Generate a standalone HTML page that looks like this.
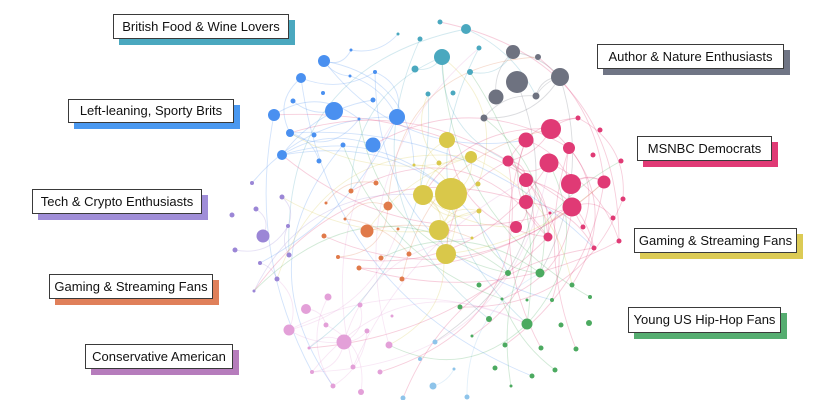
<!DOCTYPE html>
<html><head><meta charset="utf-8">
<style>
html,body{margin:0;padding:0;background:#fff;}
#wrap{position:relative;width:840px;height:400px;overflow:hidden;background:#fff;}
svg{position:absolute;left:0;top:0;}
.lb{position:absolute;height:23px;}
.lb .sh{position:absolute;left:6px;top:6px;right:-6px;bottom:-6px;}
.lb .bx{position:absolute;left:0;top:0;right:0;bottom:0;background:#fff;border:1px solid #3a3a3a;box-sizing:border-box;font:13px "Liberation Sans",sans-serif;color:#111;text-align:center;line-height:22px;white-space:nowrap;}
</style></head><body>
<div id="wrap">
<svg id="s" width="840" height="400" viewBox="0 0 840 400">
<g id="edges" fill="none" stroke-width="0.9"></g>
<g id="nodes"></g>
</svg>

<div class="lb" style="left:113px;top:14px;width:176px;height:25px"><div class="sh" style="background:#4aa8bf"></div><div class="bx" style="line-height:23px">British Food &amp; Wine Lovers</div></div>
<div class="lb" style="left:68px;top:99px;width:166px;height:24px"><div class="sh" style="background:#4a98f0"></div><div class="bx">Left-leaning, Sporty Brits</div></div>
<div class="lb" style="left:32px;top:189px;width:170px;height:25px"><div class="sh" style="background:#a08ed8"></div><div class="bx" style="line-height:23px">Tech &amp; Crypto Enthusiasts</div></div>
<div class="lb" style="left:49px;top:274px;width:164px;height:25px"><div class="sh" style="background:#e0805a"></div><div class="bx" style="line-height:23px">Gaming &amp; Streaming Fans</div></div>
<div class="lb" style="left:85px;top:344px;width:148px;height:25px"><div class="sh" style="background:#b67cbc"></div><div class="bx" style="line-height:23px">Conservative American</div></div>
<div class="lb" style="left:597px;top:44px;width:187px;height:25px"><div class="sh" style="background:#707585"></div><div class="bx" style="line-height:23px">Author &amp; Nature Enthusiasts</div></div>
<div class="lb" style="left:637px;top:136px;width:135px;height:25px"><div class="sh" style="background:#e03a75"></div><div class="bx" style="line-height:23px">MSNBC Democrats</div></div>
<div class="lb" style="left:634px;top:228px;width:163px;height:25px"><div class="sh" style="background:#dccb55"></div><div class="bx" style="line-height:23px">Gaming &amp; Streaming Fans</div></div>
<div class="lb" style="left:628px;top:307px;width:153px;height:26px"><div class="sh" style="background:#55ad70"></div><div class="bx" style="line-height:24px">Young US Hip-Hop Fans</div></div>
</div>
<script>
var C={t:"#4aa8bf",g:"#6e7280",b:"#4a90f0",y:"#d9c84a",p:"#e03a75",o:"#e07a4a",u:"#9b86d6",l:"#e3a0d8",n:"#4caa60",s:"#8ec4ea"};
var N=[
["t",466,29,5],["t",440,22,2.5],["t",442,57,8],["t",420,39,2.5],["t",415,69,3.5],["t",470,72,3],["t",479,48,2.5],["t",428,94,2.5],["t",453,93,2.5],["t",398,34,1.5],
["g",513,52,7],["g",538,57,3],["g",517,82,11],["g",560,77,9],["g",496,97,7.5],["g",536,96,3.5],["g",484,118,3.5],
["b",324,61,6],["b",301,78,5],["b",274,115,6],["b",334,111,9],["b",397,117,8],["b",373,145,7.5],["b",290,133,4],["b",282,155,5],["b",293,101,2.5],["b",323,93,2],["b",350,76,1.5],["b",351,50,1.5],["b",375,72,2],["b",373,100,2.5],["b",314,135,2.5],["b",343,145,2.5],["b",319,161,2.5],["b",359,119,1.5],
["y",447,140,8],["y",471,157,6],["y",451,194,16],["y",423,195,10],["y",439,230,10],["y",446,254,10],["y",439,163,2.5],["y",478,184,2.5],["y",479,211,2.5],["y",414,165,1.5],["y",472,238,1.5],
["p",551,129,10],["p",526,140,7.5],["p",569,148,6],["p",549,163,9.5],["p",508,161,5.5],["p",526,180,7],["p",571,184,10],["p",604,182,6.5],["p",526,202,7],["p",572,207,9.5],["p",516,227,6],["p",548,237,4.5],["p",578,118,2.5],["p",600,130,2.5],["p",593,155,2.5],["p",621,161,2.5],["p",623,199,2.5],["p",613,218,2.5],["p",583,227,2.5],["p",619,241,2.5],["p",594,248,2.5],["p",550,213,1.5],
["o",388,206,4.5],["o",367,231,6.5],["o",376,183,2.5],["o",351,191,2.5],["o",326,203,1.5],["o",345,219,1.5],["o",324,236,2.5],["o",398,229,1.5],["o",338,257,2],["o",381,258,2.5],["o",409,254,2.5],["o",359,268,2.5],["o",402,279,2.5],
["u",263,236,6.5],["u",252,183,2],["u",282,197,2.5],["u",256,209,2.5],["u",288,226,2],["u",289,255,2.5],["u",260,263,2],["u",277,279,2.5],["u",254,291,1.5],["u",232,215,2.5],["u",235,250,2.5],
["l",328,297,3.5],["l",306,309,5],["l",289,330,5.5],["l",344,342,7.5],["l",360,305,2.5],["l",326,325,2.5],["l",367,331,2.5],["l",389,345,3.5],["l",309,348,1.5],["l",353,367,2.5],["l",380,372,2.5],["l",312,372,2],["l",333,386,2.5],["l",361,392,3],["l",392,316,1.5],
["n",508,273,3],["n",540,273,4.5],["n",479,285,2.5],["n",572,285,2.5],["n",502,299,1.5],["n",527,300,1.5],["n",552,300,2],["n",590,297,2],["n",460,307,2.5],["n",489,319,3],["n",527,324,5.5],["n",561,325,2.5],["n",589,323,3],["n",472,336,1.5],["n",505,345,2.5],["n",541,348,2.5],["n",576,349,2.5],["n",495,368,2.5],["n",555,370,2.5],["n",532,376,2.5],["n",511,386,1.5],
["s",435,342,2.5],["s",420,359,2],["s",454,369,1.5],["s",433,386,3.5],["s",403,398,2.5],["s",467,397,2.5]
];
var ns="http://www.w3.org/2000/svg";
var seed=11;function r(){seed=(seed*16807)%2147483647;return seed/2147483647;}
var E=document.getElementById("edges"),G=document.getElementById("nodes");
var big=N.map(function(n,i){return i}).filter(function(i){return N[i][3]>=4});
for(var k=0;k<160;k++){
 var a,b;
 if(r()<0.6){a=big[Math.floor(r()*big.length)];}else{a=Math.floor(r()*N.length);}
 if(r()<0.4){var grp=N.filter(function(n){return n[0]==N[a][0]});var q=grp[Math.floor(r()*grp.length)];b=N.indexOf(q);}
 else b=Math.floor(r()*N.length);
 if(a==b)continue;
 var A=N[a],B=N[b];var mx=(A[1]+B[1])/2,my=(A[2]+B[2])/2;var dx=B[1]-A[1],dy=B[2]-A[2];
 var f=(0.15+r()*0.3)*(r()<0.5?-1:1);var cx=mx-dy*f,cy=my+dx*f;
 var p=document.createElementNS(ns,"path");
 p.setAttribute("d","M"+A[1]+","+A[2]+"Q"+cx+","+cy+" "+B[1]+","+B[2]);
 p.setAttribute("stroke",C[A[0]]);p.setAttribute("stroke-opacity","0.25");
 E.appendChild(p);
}
N.forEach(function(n){var c=document.createElementNS(ns,"circle");c.setAttribute("cx",n[1]);c.setAttribute("cy",n[2]);c.setAttribute("r",n[3]);c.setAttribute("fill",C[n[0]]);G.appendChild(c);});
</script>
</body></html>
